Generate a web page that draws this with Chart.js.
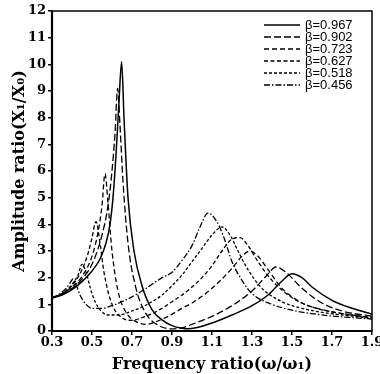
<!DOCTYPE html>
<html>
<head>
<meta charset="utf-8">
<script src="https://cdn.jsdelivr.net/npm/chart.js@4"></script>
<style>
  html, body { margin: 0; padding: 0; background: #fff; }
  #wrap { width: 380px; height: 374px; }
</style>
</head>
<body>
<div id="wrap"><canvas id="chart" width="380" height="374"></canvas></div>
<script>
// beta values, one curve each
const betaLabels = ['β=0.967', 'β=0.902', 'β=0.723', 'β=0.627', 'β=0.518', 'β=0.456'];

// frequency ratio / amplitude ratio
const w967 = [0.3,0.35,0.4,0.45,0.5,0.54,0.57,0.59,0.605,0.62,0.635,0.648,0.66,0.68,0.71,0.75,0.8,0.85,0.9,0.95,0.98,1.02,1.1,1.2,1.3,1.38,1.44,1.5,1.55,1.6,1.7,1.8,1.9];
const a967 = [1.24,1.35,1.55,1.85,2.25,2.7,3.3,4.0,5.0,6.6,8.6,10.1,8.0,5.0,3.0,1.7,0.8,0.42,0.2,0.1,0.08,0.12,0.3,0.6,0.95,1.35,1.8,2.15,2.0,1.65,1.15,0.85,0.63];

const w902 = [0.3,0.35,0.4,0.45,0.5,0.55,0.58,0.6,0.615,0.628,0.64,0.655,0.68,0.72,0.77,0.83,0.9,0.95,1.0,1.1,1.2,1.3,1.37,1.42,1.47,1.55,1.65,1.75,1.9];
const a902 = [1.24,1.38,1.6,1.95,2.5,3.6,4.7,6.0,7.4,9.1,7.7,5.6,3.3,1.6,0.65,0.22,0.08,0.12,0.25,0.55,0.95,1.5,2.05,2.4,2.2,1.6,1.05,0.75,0.55];

const w723 = [0.3,0.35,0.4,0.45,0.5,0.53,0.55,0.565,0.58,0.6,0.63,0.67,0.72,0.77,0.82,0.88,0.95,1.0,1.05,1.1,1.15,1.2,1.25,1.29,1.33,1.38,1.45,1.55,1.65,1.75,1.9];
const a723 = [1.24,1.4,1.65,2.05,2.8,3.7,4.7,5.9,4.8,3.0,1.5,0.7,0.35,0.25,0.35,0.55,0.85,1.05,1.3,1.6,1.95,2.35,2.8,3.0,2.8,2.3,1.6,1.05,0.8,0.65,0.5];

const w627 = [0.3,0.35,0.4,0.45,0.48,0.5,0.52,0.54,0.56,0.6,0.65,0.7,0.75,0.8,0.85,0.9,0.95,1.0,1.05,1.1,1.15,1.2,1.24,1.28,1.33,1.4,1.5,1.6,1.7,1.8,1.9];
const a627 = [1.24,1.4,1.7,2.3,2.9,3.5,4.1,3.3,2.2,1.0,0.5,0.4,0.5,0.65,0.85,1.1,1.35,1.65,2.0,2.45,3.0,3.45,3.5,3.2,2.6,1.9,1.25,0.9,0.72,0.6,0.5];

const w518 = [0.3,0.35,0.4,0.43,0.45,0.47,0.5,0.53,0.58,0.63,0.7,0.75,0.8,0.85,0.9,0.95,1.0,1.05,1.1,1.15,1.19,1.23,1.28,1.35,1.45,1.55,1.65,1.75,1.9];
const a518 = [1.24,1.4,1.75,2.1,2.5,2.2,1.4,0.9,0.6,0.6,0.75,0.9,1.1,1.35,1.7,2.1,2.6,3.1,3.6,3.9,3.6,3.0,2.3,1.6,1.1,0.85,0.7,0.6,0.48];

const w456 = [0.3,0.34,0.37,0.39,0.405,0.42,0.44,0.47,0.5,0.55,0.6,0.65,0.7,0.75,0.8,0.85,0.9,0.95,1.0,1.04,1.08,1.12,1.16,1.2,1.25,1.3,1.4,1.5,1.6,1.7,1.8,1.9];
const a456 = [1.24,1.4,1.6,1.8,1.95,1.75,1.35,1.0,0.85,0.85,0.95,1.1,1.28,1.5,1.75,2.0,2.2,2.65,3.2,3.9,4.42,4.15,3.5,2.6,1.9,1.4,1.0,0.78,0.65,0.56,0.5,0.45];

const xTicks = [0.3,0.5,0.7,0.9,1.1,1.3,1.5,1.7,1.9];

const series = [[w967,a967],[w902,a902],[w723,a723],[w627,a627],[w518,a518],[w456,a456]];
const dashes = [[], [7,3], [5,3], [4,2.5], [3,2], [6,2,1.5,2]];

function pts(w, a) { return w.map((x, i) => ({ x: x, y: a[i] })); }

const datasets = series.map((s, i) => ({
  label: betaLabels[i],
  data: pts(s[0], s[1]),
  borderColor: '#000',
  borderWidth: i === 0 ? 1.5 : 1.3,
  borderDash: dashes[i],
  pointRadius: 0,
  fill: false,
  cubicInterpolationMode: 'monotone'
}));

// frame + in-plot legend
const framePlugin = {
  id: 'frame',
  afterDatasetsDraw(chart) {
    const { ctx, chartArea: a } = chart;
    ctx.save();
    ctx.strokeStyle = '#000';
    ctx.setLineDash([]);
    ctx.lineWidth = 1.5;
    ctx.strokeRect(a.left, a.top, a.right - a.left, a.bottom - a.top);
    ctx.lineWidth = 2.2;
    ctx.beginPath();
    ctx.moveTo(a.left, a.top); ctx.lineTo(a.left, a.bottom); ctx.lineTo(a.right, a.bottom);
    ctx.stroke();

    ctx.font = '13px "Liberation Sans", Arial, sans-serif';
    ctx.fillStyle = '#000';
    ctx.textBaseline = 'middle';
    chart.data.datasets.forEach((d, i) => {
      const y = 25 + i * 12;
      ctx.lineWidth = 1.3;
      ctx.setLineDash(d.borderDash);
      ctx.beginPath();
      ctx.moveTo(264, y); ctx.lineTo(300, y);
      ctx.stroke();
      ctx.setLineDash([]);
      ctx.fillText(d.label, 305, y);
    });
    ctx.restore();
  }
};

const tickFont = { family: '"DejaVu Serif", serif', size: 13, weight: 'bold' };
const titleFont = { family: '"DejaVu Serif", serif', size: 16, weight: 'bold' };

new Chart(document.getElementById('chart'), {
  type: 'line',
  data: { datasets },
  options: {
    responsive: false,
    animation: false,
    layout: { padding: { left: 0, top: 11, right: 8, bottom: 0 } },
    plugins: { legend: { display: false }, tooltip: { enabled: false } },
    scales: {
      x: {
        type: 'linear',
        min: 0.3, max: 1.9,
        afterBuildTicks: (scale) => { scale.ticks = xTicks.map(v => ({ value: v })); },
        afterFit: (scale) => { scale.height = 43; scale.paddingLeft = 0; scale.paddingRight = 0; },
        ticks: { color: '#000', font: tickFont, padding: 0, maxRotation: 0, callback: v => v.toFixed(1) },
        grid: { drawOnChartArea: false, color: '#000', tickLength: 4, lineWidth: 1.5 },
        border: { display: false },
        title: { display: true, text: 'Frequency ratio(ω/ω₁)', color: '#000', font: titleFont, padding: { top: 0, bottom: 0 } }
      },
      y: {
        min: 0, max: 12,
        afterFit: (scale) => { scale.width = 52; },
        ticks: { stepSize: 1, color: '#000', font: tickFont, padding: 2 },
        grid: { drawOnChartArea: false, color: '#000', tickLength: 4, lineWidth: 1.5 },
        border: { display: false },
        title: { display: true, text: 'Amplitude ratio(X₁/X₀)', color: '#000', font: titleFont, padding: { top: 10, bottom: 2 } }
      }
    }
  },
  plugins: [framePlugin]
});
</script>
</body>
</html>
